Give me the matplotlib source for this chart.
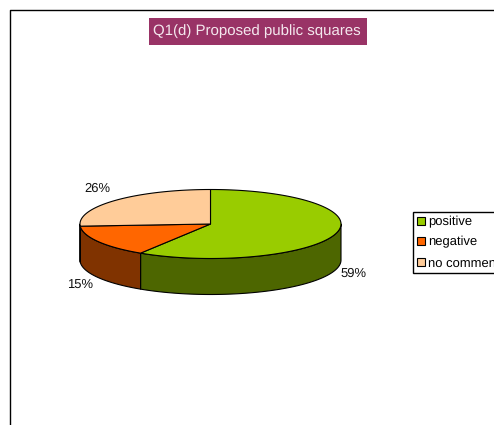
import numpy as np
import matplotlib.pyplot as plt
from matplotlib.patches import Patch, Rectangle

plt.rcParams['font.family'] = ['Liberation Sans', 'DejaVu Sans']
plt.rcParams['text.hinting'] = 'no_hinting'
plt.rcParams['text.hinting_factor'] = 1

categories = ['positive', 'negative', 'no comment']
shares = [59, 15, 26]
top_colors = ['#99CC00', '#FF6600', '#FFCC99']
side_colors = ['#4D6600', '#803300', '#806650']
title = 'Q1(d) Proposed public squares'

# pie geometry in pixels
cx, cy = 210.5, 224
rx, ry = 130.5, 34.5
depth = 36


def rim(a0, a1):
    # angles run clockwise from twelve o'clock
    t = np.radians(np.linspace(a0, a1, max(int(abs(a1 - a0)), 2) + 1))
    return cx + rx * np.sin(t), cy - ry * np.cos(t)


fig = plt.figure(figsize=(4.94, 4.25), dpi=100)
ax = fig.add_axes([0, 0, 1, 1])
ax.set_xlim(0, 494)
ax.set_ylim(425, 0)
ax.axis('off')

# outer frame, only the left and top edges fall inside the canvas
ax.plot([10, 10, 500], [430, 9.5, 9.5], color='black', lw=1)

# title band
ax.add_patch(Rectangle((149, 18), 218, 27, facecolor='#993366', edgecolor='none'))
ax.text(257, 31.5, title, color='#F4E8EE', fontsize=11, ha='center', va='center')

edges = np.cumsum([0] + shares) / sum(shares) * 360

# side wall: only the front half of the rim (90..270 degrees) is visible
for i in range(len(shares)):
    a0 = max(edges[i], 90)
    a1 = min(edges[i + 1], 270)
    if a1 <= a0:
        continue
    x, y = rim(a0, a1)
    ax.fill(np.r_[x, x[::-1]], np.r_[y, y[::-1] + depth],
            facecolor=side_colors[i], edgecolor='black', lw=0.8, joinstyle='round')

# top face
for i in range(len(shares)):
    x, y = rim(edges[i], edges[i + 1])
    ax.fill(np.r_[cx, x], np.r_[cy, y],
            facecolor=top_colors[i], edgecolor='black', lw=0.8, joinstyle='round')

# percentage labels
label_pos = [(353, 273.5), (80, 284.5), (97, 188.5)]
for s, (lx, ly) in zip(shares, label_pos):
    ax.text(lx, ly, f'{s}%', fontsize=9, ha='center', va='center', color='#111111')

handles = [Patch(facecolor=c, edgecolor='black', lw=0.8) for c in top_colors]
leg = ax.legend(handles, categories, loc='upper left', bbox_to_anchor=(413 / 494, 1 - 212 / 425),
                borderaxespad=0, fontsize=9, fancybox=False, framealpha=1, edgecolor='black',
                handlelength=0.62, handleheight=0.62, handletextpad=0.26,
                labelspacing=0.68, borderpad=0.3)
leg.get_frame().set_linewidth(1)

fig.savefig('out.png', dpi=100)
